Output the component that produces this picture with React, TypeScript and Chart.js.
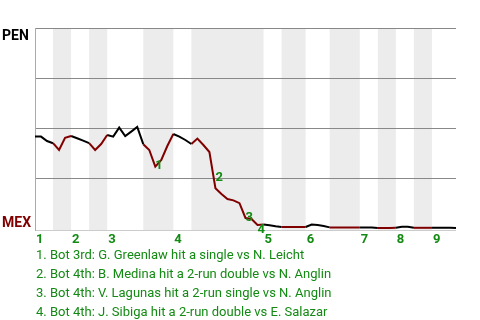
import React, { useEffect, useRef } from 'react';
import { Chart, registerables } from 'chart.js';

Chart.register(...registerables);

// Half-inning start play indices (top 1, bottom 1, top 2, ...)
const halfInningStarts = [0, 3, 6, 9, 12, 18, 23, 26, 38, 41, 45, 49, 54, 57, 60, 63, 66];
const lastPlay = 70;
const inningLabels = ['1', '2', '3', '4', '5', '6', '7', '8', '9'];

// PEN win probability after each play
const winProb = [
  0.457, 0.457, 0.435, 0.424, 0.39, 0.451, 0.46, 0.449, 0.437, 0.424,
  0.39, 0.42, 0.465, 0.457, 0.502, 0.46, 0.482, 0.505, 0.419, 0.39,
  0.307, 0.34, 0.41, 0.47, 0.457, 0.44, 0.42, 0.447, 0.415, 0.38,
  0.199, 0.17, 0.145, 0.138, 0.124, 0.05, 0.045, 0.015, 0.017, 0.014,
  0.009, 0.005, 0.005, 0.005, 0.005, 0.005, 0.017, 0.015, 0.01, 0.003,
  0.002, 0.002, 0.002, 0.002, 0.002, 0.002, 0.002, 0.0, 0.0, 0.0,
  0.001, 0.006, 0.006, 0.001, 0.001, 0.001, 0.001, 0.001, 0.001, 0.001,
  0.0,
];

const eventPlays = [20, 30, 35, 37];
const eventTexts = [
  '1. Bot 3rd: G. Greenlaw hit a single vs N. Leicht',
  '2. Bot 4th: B. Medina hit a 2-run double vs N. Anglin',
  '3. Bot 4th: V. Lagunas hit a 2-run single vs N. Anglin',
  '4. Bot 4th: J. Sibiga hit a 2-run double vs E. Salazar',
];

const teamTop = 'PEN';
const teamBottom = 'MEX';
const gridValues = [-0.01, 0.25, 0.5, 0.75, 1];

const AWAY_COLOR = '#000000';
const HOME_COLOR = '#800000';
const GREEN = '#138a13';
const BAND = '#ececec';
const FONT = 'Roboto, "Noto Sans", sans-serif';

function halfIndexForSegment(i: number) {
  let h = 0;
  for (let k = 0; k < halfInningStarts.length; k++) {
    if (halfInningStarts[k] <= i) h = k;
  }
  return h;
}

const labelOffsets = [-1, -10, 0, 5];

const decorPlugin = {
  id: 'decor',
  beforeDraw(chart: any) {
    const { ctx, chartArea: a } = chart;
    const x = chart.scales.x;
    ctx.save();
    ctx.fillStyle = BAND;
    for (let h = 1; h < halfInningStarts.length; h += 2) {
      const end = h + 1 < halfInningStarts.length ? halfInningStarts[h + 1] : lastPlay;
      const x0 = x.getPixelForValue(halfInningStarts[h]);
      const x1 = x.getPixelForValue(end);
      ctx.fillRect(x0, a.top, x1 - x0, a.bottom - a.top);
    }
    ctx.restore();
  },
  afterDraw(chart: any) {
    const { ctx } = chart;
    const x = chart.scales.x;
    const y = chart.scales.y;
    ctx.save();
    // team labels
    ctx.textAlign = 'left';
    ctx.textBaseline = 'alphabetic';
    ctx.font = `bold 14px ${FONT}`;
    ctx.fillStyle = AWAY_COLOR;
    ctx.fillText(teamTop, 2, 40);
    ctx.fillStyle = HOME_COLOR;
    ctx.fillText(teamBottom, 2, 227);
    // event markers
    ctx.font = `bold 13px ${FONT}`;
    ctx.fillStyle = GREEN;
    ctx.textBaseline = 'middle';
    eventPlays.forEach((p, i) => {
      const px = x.getPixelForValue(p);
      const py = y.getPixelForValue(winProb[p]);
      ctx.fillText(String(i + 1), px, py + labelOffsets[i]);
    });
    // inning labels
    ctx.textBaseline = 'alphabetic';
    inningLabels.forEach((lab, i) => {
      const px = x.getPixelForValue(halfInningStarts[i * 2]);
      ctx.fillText(lab, px + 1, 243);
    });
    // event list
    ctx.font = `13px ${FONT}`;
    eventTexts.forEach((t, i) => {
      ctx.fillText(t, 36, 259 + i * 19);
    });
    ctx.restore();
  },
};

export default function App() {
  const ref = useRef<HTMLCanvasElement>(null);
  useEffect(() => {
    document.body.style.margin = '0';
    const canvas = ref.current;
    if (!canvas) return;
    const chart = new Chart(canvas, {
      type: 'line',
      data: {
        datasets: [
          {
            data: winProb.map((v, i) => ({ x: i, y: v })),
            borderColor: AWAY_COLOR,
            borderWidth: 2,
            pointRadius: 0,
            tension: 0,
            fill: false,
            segment: {
              borderColor: (c: any) =>
                halfIndexForSegment(c.p0DataIndex) % 2 === 0 ? AWAY_COLOR : HOME_COLOR,
            },
          },
        ],
      },
      options: {
        animation: false,
        responsive: false,
        devicePixelRatio: 1,
        layout: { padding: { left: 35, right: 24, top: 28, bottom: 90 } },
        plugins: { legend: { display: false }, tooltip: { enabled: false } },
        scales: {
          x: { type: 'linear', min: 0, max: lastPlay, display: false },
          y: {
            min: -0.01,
            max: 1,
            afterFit: (s: any) => {
              s.width = 0;
            },
            afterBuildTicks: (s: any) => {
              s.ticks = gridValues.map((v) => ({ value: v }));
            },
            ticks: { display: false },
            grid: {
              drawTicks: false,
              lineWidth: 1,
              color: (c: any) => (c.tick && c.tick.value < 0 ? '#cccccc' : '#888888'),
            },
            border: { display: true, color: '#aaaaaa' },
          },
        },
      },
      plugins: [decorPlugin],
    });
    return () => chart.destroy();
  }, []);
  return <canvas ref={ref} width={480} height={320} style={{ display: 'block' }} />;
}
